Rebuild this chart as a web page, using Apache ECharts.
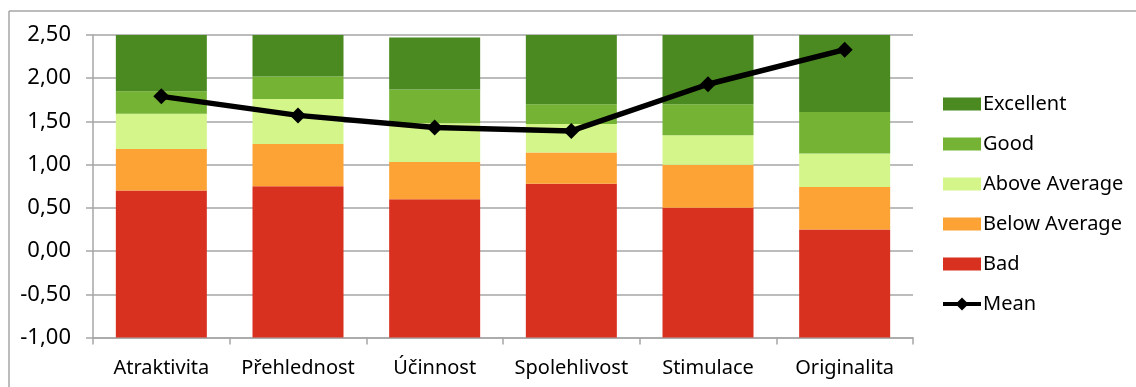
<!DOCTYPE html>
<html>
<head>
<meta charset="utf-8">
<script src="https://cdn.jsdelivr.net/npm/echarts@6/dist/echarts.min.js"></script>
<style>
  html, body { margin: 0; padding: 0; background: #fff; }
  #chart { width: 1136px; height: 387px; }
</style>
</head>
<body>
<div id="chart"></div>
<script>
// kategorie (UEQ škály)
const categories = ['Atraktivita', 'Přehlednost', 'Účinnost', 'Spolehlivost', 'Stimulace', 'Originalita']

// horní hranice pásem benchmarku
const benchmarkFloor = -1
const badTop = [0.70, 0.75, 0.60, 0.78, 0.50, 0.25]
const belowTop = [1.18, 1.24, 1.03, 1.14, 1.00, 0.74]
const aboveTop = [1.59, 1.76, 1.48, 1.47, 1.34, 1.13]
const goodTop = [1.85, 2.02, 1.87, 1.70, 1.70, 1.61]
const excellentTop = [2.50, 2.50, 2.47, 2.50, 2.50, 2.50]

// průměry
const means = [1.79, 1.57, 1.43, 1.39, 1.93, 2.33]

// osa Y
const yMin = -1
const yMax = 2.5
const yStep = 0.5

const bands = [
  { name: 'Bad', lower: categories.map(() => benchmarkFloor), upper: badTop, color: '#d9311f' },
  { name: 'Below Average', lower: badTop, upper: belowTop, color: '#fda234' },
  { name: 'Above Average', lower: belowTop, upper: aboveTop, color: '#d4f58a' },
  { name: 'Good', lower: aboveTop, upper: goodTop, color: '#74b333' },
  { name: 'Excellent', lower: goodTop, upper: excellentTop, color: '#4b8a20' }
]

const font = 'Noto Sans'
const gridColor = '#a6a6a6'

// ikona legendy: čára s kosočtvercem
const meanIcon = 'path://M0,4.5L14.5,4.5L19,0L23.5,4.5L38,4.5L38,8.5L23.5,8.5L19,13L14.5,8.5L0,8.5Z'

const chart = echarts.init(document.getElementById('chart'), null, { renderer: 'canvas' })

const barSeries = [
  // neviditelný základ, aby sloupce začínaly na -1
  {
    name: 'base',
    type: 'bar',
    stack: 'bench',
    stackStrategy: 'all',
    barWidth: 91,
    silent: true,
    itemStyle: { color: 'rgba(0,0,0,0)' },
    data: categories.map(() => benchmarkFloor)
  },
  ...bands.map(b => ({
    name: b.name,
    type: 'bar',
    stack: 'bench',
    stackStrategy: 'all',
    barWidth: 91,
    itemStyle: { color: b.color },
    data: b.upper.map((u, i) => +(u - b.lower[i]).toFixed(2))
  }))
]

const option = {
  animation: false,
  textStyle: { fontFamily: font },
  graphic: [
    { type: 'line', shape: { x1: 9, y1: 11, x2: 1136, y2: 11 }, style: { stroke: gridColor, lineWidth: 1.5 } },
    { type: 'line', shape: { x1: 9, y1: 11, x2: 9, y2: 387 }, style: { stroke: gridColor, lineWidth: 1.5 } }
  ],
  grid: { left: 93, right: 223, top: 35, bottom: 49.5 },
  legend: {
    orient: 'vertical',
    left: 938,
    top: 89,
    itemWidth: 38,
    itemHeight: 13,
    itemGap: 20,
    textStyle: { fontFamily: font, fontSize: 20, color: '#000', padding: [0, 0, 0, -3] },
    data: [
      { name: 'Excellent', icon: 'rect' },
      { name: 'Good', icon: 'rect' },
      { name: 'Above Average', icon: 'rect' },
      { name: 'Below Average', icon: 'rect' },
      { name: 'Bad', icon: 'rect' },
      { name: 'Mean', icon: meanIcon }
    ]
  },
  xAxis: {
    type: 'category',
    data: categories,
    axisLine: { onZero: false, lineStyle: { color: gridColor, width: 1.5 } },
    axisTick: { show: true, interval: 0, length: 7, lineStyle: { color: gridColor, width: 1.5 } },
    axisLabel: { interval: 0, color: '#000', fontSize: 20, fontFamily: font, margin: 21 }
  },
  yAxis: {
    type: 'value',
    min: yMin,
    max: yMax,
    interval: yStep,
    axisLine: { show: true, lineStyle: { color: gridColor, width: 1.5 } },
    axisTick: { show: true, length: 7, lineStyle: { color: gridColor, width: 1.5 } },
    splitLine: { lineStyle: { color: gridColor, width: 1.5 } },
    axisLabel: {
      color: '#000',
      fontSize: 22,
      fontFamily: font,
      margin: 22,
      formatter: v => v.toFixed(2).replace('.', ',')
    }
  },
  series: [
    ...barSeries,
    {
      name: 'Mean',
      type: 'line',
      data: means,
      symbol: 'diamond',
      symbolSize: 16,
      lineStyle: { color: '#000', width: 5.5 },
      itemStyle: { color: '#000' },
      z: 10
    }
  ]
}

chart.setOption(option)
</script>
</body>
</html>
